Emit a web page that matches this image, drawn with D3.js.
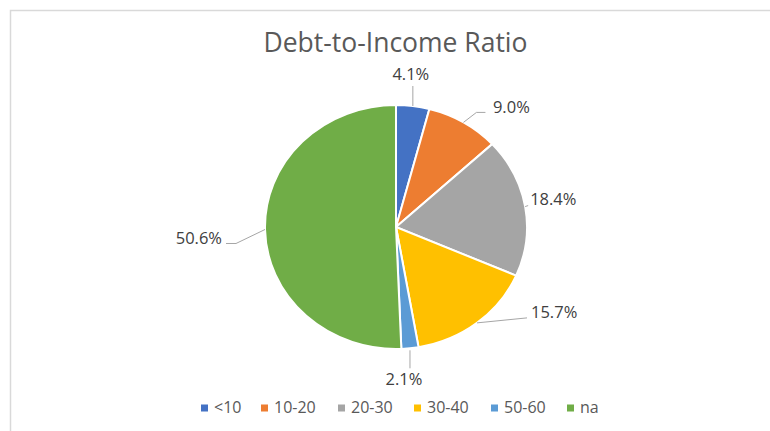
<!DOCTYPE html>
<html><head><meta charset="utf-8">
<script src="https://cdn.jsdelivr.net/npm/d3@7"></script>
<style>body{margin:0;background:#fff}svg{display:block}text{font-family:"Segoe UI","Open Sans","Noto Sans",sans-serif}</style>
</head><body><svg id="c" width="770" height="431"></svg>
<script>
const categories = ["<10","10-20","20-30","30-40","50-60","na"];
const values = [4.1, 9.0, 18.4, 15.7, 2.1, 50.6];
const labels = ["4.1%","9.0%","18.4%","15.7%","2.1%","50.6%"];
const colors = ["#4472C4","#ED7D31","#A5A5A5","#FFC000","#5B9BD5","#70AD47"];
const title = "Debt-to-Income Ratio";

// layout: label offsets relative to the slice edge anchor
const labelLayout = [
  {tx:-2, ty:-30, anchor:"middle", pts:[[0,0],[0,-20]]},
  {tx:29.5, ty:-14, anchor:"start", pts:[[0,0],[13,-10],[22,-10]]},
  {tx:5, ty:-6, anchor:"start", pts:[[0,0],[3,-1]]},
  {tx:54, ty:-9, anchor:"start", pts:[[0,0],[50,-5]]},
  {tx:-6, ty:32, anchor:"middle", pts:[[0,2],[0,20]]},
  {tx:-43, ty:10, anchor:"end", pts:[[0,0],[-29,14],[-39,14]]}
];

const svg = d3.select("#c");
svg.append("rect").attr("x",10.5).attr("y",10.5).attr("width",780).attr("height",440)
  .attr("fill","#fff").attr("stroke","#d9d9d9").attr("stroke-width",1.5);

svg.append("text").attr("x",395.5).attr("y",45).attr("text-anchor","middle")
  .attr("dominant-baseline","middle")
  .attr("font-size",26.5).attr("fill","#595959").text(title);

const cx = 396, cy = 227, ry = 122, sx = 131/122;
const pie = d3.pie().sort(null).value(d=>d)(values);
const arc = d3.arc().innerRadius(0).outerRadius(ry);
const g = svg.append("g").attr("transform",`translate(${cx},${cy}) scale(${sx},1)`);
g.selectAll("path").data(pie).join("path")
  .attr("d",arc).attr("fill",(d,i)=>colors[i])
  .attr("stroke","#fff").attr("stroke-width",2).attr("vector-effect","non-scaling-stroke");

const lg = svg.append("g");
pie.forEach((d,i)=>{
  const a = (d.startAngle+d.endAngle)/2;
  const ax = cx + ry*sx*Math.sin(a), ay = cy - ry*Math.cos(a);
  const L = labelLayout[i];
  const pts = L.pts.map(p=>[ax+p[0], ay+p[1]]);
  lg.append("path").attr("d",d3.line()(pts)).attr("fill","none")
    .attr("stroke","#a6a6a6").attr("stroke-width",1);
  lg.append("text").attr("x",ax+L.tx).attr("y",ay+L.ty).attr("text-anchor",L.anchor)
    .attr("dominant-baseline","middle").attr("font-size",16.5).attr("fill","#404040").text(labels[i]);
});

// legend
const legX = [201,261,338,414,491,567];
const leg = svg.append("g");
categories.forEach((c,i)=>{
  leg.append("rect").attr("x",legX[i]).attr("y",404.5).attr("width",7).attr("height",7).attr("fill",colors[i]);
  leg.append("text").attr("x",legX[i]+13).attr("y",409).attr("dominant-baseline","middle")
    .attr("font-size",16).attr("fill","#595959").text(c);
});
</script></body></html>
